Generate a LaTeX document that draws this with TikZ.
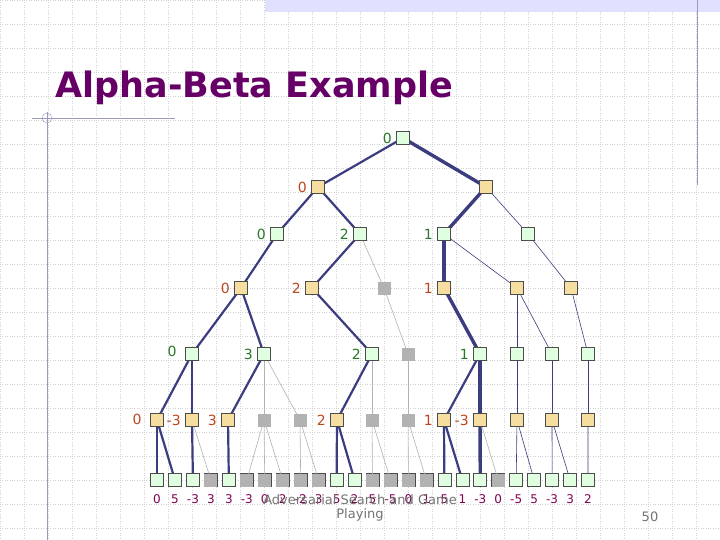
\documentclass[tikz,border=0pt]{standalone}
\usepackage{fontspec}
\setmainfont{DejaVu Sans}
\begin{document}
\begin{tikzpicture}[x=1pt,y=-1pt,
 bx/.style={draw=black!70,line width=0.6pt,minimum size=13pt,inner sep=0pt},
 g/.style={bx,fill=green!12!white},
 t/.style={bx,fill={rgb,255:red,245;green,222;blue,160}},
 gr/.style={minimum size=13pt,inner sep=0pt,fill=black!30},
 e/.style={draw={rgb,255:red,60;green,60;blue,128},line width=2.2pt},
 E/.style={draw={rgb,255:red,60;green,60;blue,128},line width=3.4pt},
 n/.style={draw={rgb,255:red,60;green,60;blue,128},line width=0.6pt},
 p/.style={draw=black!30,line width=0.6pt},
 gl/.style={text={rgb,255:red,40;green,120;blue,40},font=\fontsize{14}{14}\selectfont},
 rl/.style={text={rgb,255:red,190;green,70;blue,30},font=\fontsize{14}{14}\selectfont},
 ll/.style={text={rgb,255:red,128;green,0;blue,80},font=\fontsize{12}{12}\selectfont}]
\useasboundingbox (0,0) rectangle (720,540);
\fill[white] (0,0) rectangle (720,540);
\foreach \i in {0,24,...,720} \draw[black!18,dotted] (\i,0)--(\i,540);
\foreach \j in {0,24,...,540} \draw[black!18,dotted] (0,\j)--(720,\j);
\fill[blue!12] (265,0) rectangle (720,12);
\draw[blue!40!black!40] (697,0)--(697,185);
\draw[blue!40!black!40] (32,118)--(175,118) (47,112)--(47,540);
\draw[blue!40!black!40] (47,118) circle (5);
\node[text={rgb,255:red,102;green,0;blue,102},font=\bfseries\fontsize{35}{35}\selectfont,anchor=west] (title) at (52,88) {Alpha-Beta Example};
% nodes
\node[g] (r) at (403,138) {};
\node[t] (a1) at (318,187) {}; \node[t] (b1) at (486,187) {};
\node[g] (a2) at (277,234) {}; \node[g] (b2) at (360,234) {}; \node[g] (c2) at (444,234) {}; \node[g] (d2) at (528,234) {};
\node[t] (a3) at (241,288) {}; \node[t] (b3) at (312,288) {}; \node[gr] (c3) at (384,288) {}; \node[t] (d3) at (444,288) {}; \node[t] (e3) at (517,288) {}; \node[t] (f3) at (571,288) {};
\node[g] (a4) at (192,354) {}; \node[g] (b4) at (264,354) {}; \node[g] (c4) at (372,354) {}; \node[gr] (d4) at (408,354) {}; \node[g] (e4) at (480,354) {}; \node[g] (f4) at (517,354) {}; \node[g] (g4) at (552,354) {}; \node[g] (h4) at (588,354) {};
\foreach \nm/\xx/\st in {a/157/t,b/192/t,c/228/t,d/264/gr,e/300/gr,f/337/t,g/372/gr,h/408/gr,i/444/t,j/480/t,k/517/t,l/552/t,m/588/t}
  \node[\st] (\nm5) at (\xx,420) {};
\foreach \v [count=\i from 0] in {0,5,-3,3,3,-3,0,2,-2,3,5,2,5,-5,0,1,5,1,-3,0,-5,5,-3,3,2}{
  \pgfmathsetmacro\xx{157+17.96*\i}
  \node[g] (L\i) at (\xx,480) {};
  \node[ll] (V\i) at (\xx,499) {\v};
}
% labels
\node[gl,left=1pt] (lr) at (r.west) {0};
\node[rl,left=1pt] (la1) at (a1.west) {0};
\node[gl,left=1pt] (la2) at (a2.west) {0}; \node[gl,left=1pt] (lb2) at (b2.west) {2}; \node[gl,left=1pt] (lc2) at (c2.west) {1};
\node[rl,left=1pt] (la3) at (a3.west) {0}; \node[rl,left=1pt] (lb3) at (b3.west) {2}; \node[rl,left=1pt] (ld3) at (d3.west) {1};
\node[gl] (la4) at (172,351) {0}; \node[gl,left=1pt] (lb4) at (b4.west) {3}; \node[gl,left=1pt] (lc4) at (c4.west) {2}; \node[gl,left=1pt] (le4) at (e4.west) {1};
\node[rl] (la5) at (137,419) {0}; \node[rl,left=1pt] (lb5) at (b5.west) {-3}; \node[rl,left=1pt] (lc5) at (c5.west) {3}; \node[rl,left=1pt] (lf5) at (f5.west) {2}; \node[rl,left=1pt] (li5) at (i5.west) {1}; \node[rl,left=1pt] (lj5) at (j5.west) {-3};
% edges
\draw[e] (r.center)--(a1.center); \draw[E] (r.center)--(b1.center);
\draw[e] (a1.center)--(a2.center); \draw[e] (a1.center)--(b2.center);
\draw[E] (b1.center)--(c2.center); \draw[n] (b1.center)--(d2.center);
\draw[e] (a2.center)--(a3.center); \draw[e] (b2.center)--(b3.center); \draw[p] (b2.center)--(c3.center);
\draw[E] (c2.center)--(d3.center); \draw[n] (c2.center)--(e3.center); \draw[n] (d2.center)--(f3.center);
\draw[e] (a3.center)--(a4.center); \draw[e] (a3.center)--(b4.center); \draw[e] (b3.center)--(c4.center); \draw[p] (c3.center)--(d4.center);
\draw[E] (d3.center)--(e4.center); \draw[n] (e3.center)--(f4.center); \draw[n] (e3.center)--(g4.center); \draw[n] (f3.center)--(h4.center);
\draw[e] (a4.center)--(a5.center); \draw[e] (a4.center)--(b5.center);
\draw[e] (b4.center)--(c5.center); \draw[p] (b4.center)--(d5.center); \draw[p] (b4.center)--(e5.center);
\draw[e] (c4.center)--(f5.center); \draw[p] (c4.center)--(g5.center); \draw[p] (d4.center)--(h5.center);
\draw[e] (e4.center)--(i5.center); \draw[E] (e4.center)--(j5.center);
\draw[n] (f4.center)--(k5.center); \draw[n] (g4.center)--(l5.center); \draw[n] (h4.center)--(m5.center);
\draw[e] (a5.center)--(L0.center); \draw[e] (a5.center)--(L1.center);
\draw[e] (b5.center)--(L2.center); \draw[p] (b5.center)--(L3.center);
\draw[e] (c5.center)--(L4.center);
\draw[p] (d5.center)--(L5.center); \draw[p] (d5.center)--(L6.center); \draw[p] (d5.center)--(L7.center);
\draw[p] (e5.center)--(L8.center); \draw[p] (e5.center)--(L9.center);
\draw[e] (f5.center)--(L10.center); \draw[e] (f5.center)--(L11.center);
\draw[p] (g5.center)--(L12.center); \draw[p] (g5.center)--(L13.center);
\draw[p] (h5.center)--(L14.center); \draw[p] (h5.center)--(L15.center);
\draw[e] (i5.center)--(L16.center); \draw[e] (i5.center)--(L17.center);
\draw[E] (j5.center)--(L18.center); \draw[p] (j5.center)--(L19.center);
\draw[n] (k5.center)--(L20.center); \draw[n] (k5.center)--(L21.center);
\draw[n] (l5.center)--(L22.center); \draw[n] (l5.center)--(L23.center);
\draw[n] (m5.center)--(L24.center);
% boxes on top of connectors
\node[g] at (r) {}; \node[t] at (a1) {}; \node[t] at (b1) {};
\foreach \nm in {a2,b2,c2,d2,a4,b4,c4,e4,f4,g4,h4} \node[g] at (\nm) {};
\foreach \nm in {a3,b3,d3,e3,f3,a5,b5,c5,f5,i5,j5,k5,l5,m5} \node[t] at (\nm) {};
\foreach \nm in {c3,d4,d5,e5,g5,h5} \node[gr] at (\nm) {};
\foreach \i in {0,1,2,4,10,11,16,17,18,20,21,22,23,24} \node[g] at (L\i) {};
\foreach \i in {3,5,6,7,8,9,12,13,14,15,19} \node[gr] at (L\i) {};
\node[text=black!55,font=\fontsize{13}{13}\selectfont,align=center] (foot) at (360,508) {Adversarial Search and Game\\[1pt]Playing};
\node[text=black!55,font=\fontsize{13}{13}\selectfont] (pg) at (650,517) {50};
\end{tikzpicture}
\end{document}
